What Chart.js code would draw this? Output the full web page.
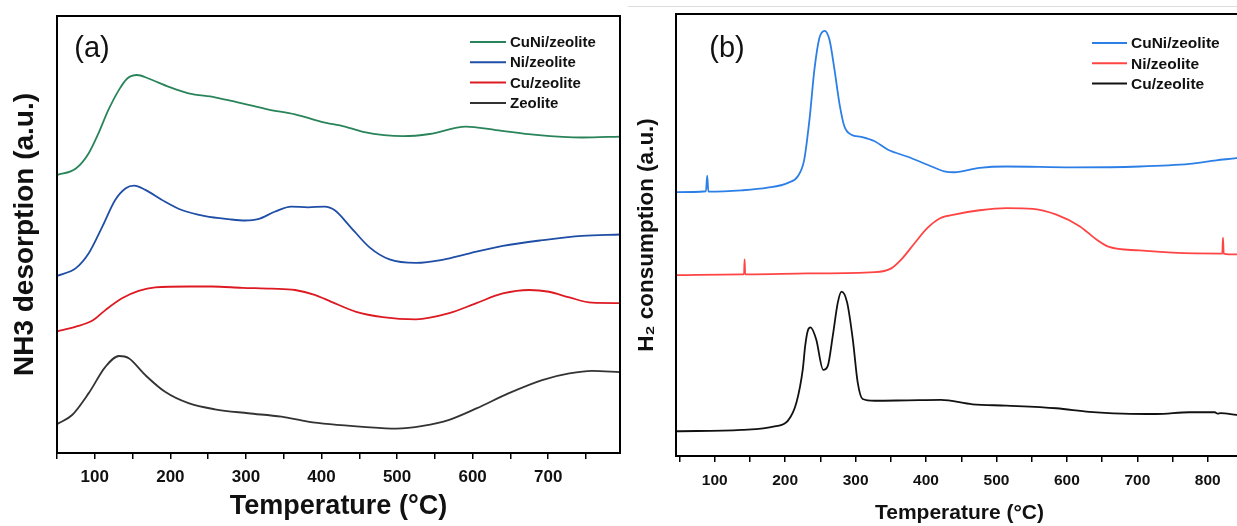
<!DOCTYPE html>
<html>
<head>
<meta charset="utf-8">
<script src="https://cdn.jsdelivr.net/npm/chart.js@4.4.0/dist/chart.umd.min.js"></script>
<style>
  html, body { margin: 0; padding: 0; background: #fff; overflow: hidden; width: 1237px; height: 526px; }
  #wrap { position: relative; width: 1237px; height: 526px; overflow: hidden; }
  canvas { position: absolute; top: 0; }
  #tpd { left: 0; }
  #tpr { left: 622px; }
  #rule { position: absolute; left: 628px; top: 6px; right: 0; height: 1px; background: #dcdcdc; }
</style>
</head>
<body>
<div id="wrap">
  <div id="rule"></div>
  <canvas id="tpd" width="630" height="526"></canvas>
  <canvas id="tpr" width="630" height="526"></canvas>
</div>
<script>
const FONT = "'Liberation Sans', Arial, Helvetica, sans-serif";

// ---- (a) NH3-TPD profiles, intensity in a.u. (offset curves) ----
const tpdLabels = ['CuNi/zeolite', 'Ni/zeolite', 'Cu/zeolite', 'Zeolite'];
const tpdColors = ['#2a845a', '#1f4ea6', '#dd1a22', '#333333'];

const tpdTempCuNi = [50, 75, 92, 105, 118, 132, 143, 156, 171, 198, 224, 259, 295, 330, 365, 400, 431, 455, 508, 543, 591, 631, 684, 745, 795];
const tpdCuNi     = [63.6, 65.1, 68.6, 73.2, 78.5, 83.1, 85.7, 86.5, 85.7, 83.8, 82.3, 81.4, 80.0, 78.6, 77.5, 75.8, 74.7, 73.5, 72.5, 73.0, 74.7, 73.9, 72.8, 72.2, 72.4];

const tpdTempNi = [50, 75, 92, 110, 127, 141, 152, 167, 189, 215, 246, 277, 299, 316, 338, 360, 382, 404, 418, 437, 464, 490, 525, 560, 596, 640, 692, 745, 795];
const tpdNi     = [40.5, 42.3, 45.7, 51.8, 57.9, 60.6, 61.2, 60.2, 57.9, 55.6, 54.2, 53.5, 53.2, 53.5, 55.2, 56.4, 56.2, 56.4, 55.5, 52.0, 47.0, 44.3, 43.5, 44.2, 45.7, 47.4, 48.7, 49.7, 50.0];

const tpdTempCu = [50, 75, 97, 114, 136, 158, 180, 224, 255, 295, 334, 365, 391, 413, 446, 481, 525, 569, 605, 640, 675, 701, 728, 758, 795];
const tpdCu     = [27.8, 28.9, 30.3, 32.7, 35.4, 37.1, 37.9, 38.1, 38.1, 37.8, 37.6, 37.3, 36.2, 34.6, 32.3, 31.1, 30.6, 32.0, 34.3, 36.5, 37.3, 36.9, 35.6, 34.4, 34.3];

const tpdTempZeo = [50, 70, 92, 114, 132, 145, 167, 193, 224, 259, 303, 347, 382, 411, 455, 499, 534, 569, 605, 648, 692, 728, 758, 795];
const tpdZeo     = [6.6, 8.7, 13.7, 19.7, 22.2, 21.7, 17.8, 14.0, 11.4, 10.0, 9.1, 8.3, 7.2, 6.6, 6.0, 5.6, 6.2, 7.6, 10.2, 13.7, 16.7, 18.2, 18.8, 18.5];

// ---- (b) H2-TPR profiles, consumption in a.u. (offset curves) ----
const tprLabels = ['CuNi/zeolite', 'Ni/zeolite', 'Cu/zeolite'];
const tprColors = ['#2c7fe6', '#ff4444', '#111111'];

const tprTempCuNi = [45, 87.5, 89.3, 91, 138, 175, 204, 218, 227, 234.5, 241.5, 248.5, 256, 263, 270, 277, 284, 294, 308, 327, 346, 374, 402, 426, 440, 476, 514, 608, 703, 774, 812, 841, 850];
const tprCuNi     = [59.7, 59.9, 63.4, 59.8, 60.1, 60.7, 61.8, 63.3, 67.0, 76.1, 87.4, 94.5, 96.2, 94.1, 87.4, 79.8, 74.6, 72.7, 72.2, 71.2, 69.3, 67.7, 65.9, 64.4, 64.2, 65.2, 65.5, 65.3, 65.5, 66.1, 66.9, 67.4, 67.6];

const tprTempNi = [45, 138, 141.6, 142.4, 143.2, 147, 232, 327, 350, 365, 384, 402, 420, 440, 476, 514, 552, 585, 618, 641, 660, 703, 750, 820.6, 821.6, 822.6, 841, 850];
const tprNi     = [40.9, 41.1, 41.1, 44.5, 41.1, 41.1, 41.3, 41.6, 42.4, 44.5, 48.2, 51.6, 53.8, 54.6, 55.6, 56.1, 55.9, 54.6, 52.0, 49.1, 47.3, 46.5, 46.0, 45.8, 49.4, 45.8, 45.6, 45.6];

const tprTempCu = [45, 138, 185, 204, 216, 225, 228.4, 232, 236, 244, 254, 260.5, 267.6, 274.7, 280, 288, 296, 303, 310, 327, 374, 421, 466, 514, 585, 632, 679, 727, 774, 810, 814, 818, 841, 850];
const tprCu     = [5.6, 5.9, 6.7, 8.0, 12.1, 19.6, 24.9, 28.3, 29.1, 26.4, 19.5, 20.4, 27.2, 34.7, 37.2, 34.7, 26.4, 16.6, 12.9, 12.5, 12.6, 12.7, 11.7, 11.4, 10.8, 10.0, 9.6, 9.5, 9.9, 9.9, 9.6, 9.7, 9.3, 9.2];

// ---- axis text ----
const tempTitle = 'Temperature (°C)';
const tpdYTitle = 'NH3 desorption (a.u.)';
const tprYTitle = 'H\u2082 consumption (a.u.)';
const tickStep = 50;
const labelStep = 100;

function points(xs, ys) {
  return xs.map((x, i) => ({ x: x, y: ys[i] }));
}

function lineSet(label, color, xs, ys, width) {
  return {
    label: label,
    data: points(xs, ys),
    borderColor: color,
    backgroundColor: color,
    borderWidth: width,
    pointRadius: 0,
    fill: false,
    cubicInterpolationMode: 'monotone'
  };
}

// closed box around the plotting area
const framePlugin = {
  id: 'frame',
  afterDatasetsDraw(chart) {
    const { ctx, chartArea: a } = chart;
    ctx.save();
    ctx.strokeStyle = '#000';
    ctx.lineWidth = 2;
    ctx.strokeRect(a.left, a.top, a.right - a.left, a.bottom - a.top);
    ctx.restore();
  }
};

// line-sample legend and panel tag drawn inside the plot
const lineLegendPlugin = {
  id: 'lineLegend',
  afterDraw(chart, args, opts) {
    const ctx = chart.ctx;
    ctx.save();
    chart.data.datasets.forEach((ds, i) => {
      const y = opts.y + i * opts.rowGap;
      ctx.strokeStyle = ds.borderColor;
      ctx.lineWidth = 2;
      ctx.beginPath();
      ctx.moveTo(opts.x, y);
      ctx.lineTo(opts.x + opts.lineLen, y);
      ctx.stroke();
      ctx.fillStyle = '#111';
      ctx.font = 'bold ' + opts.size + 'px ' + FONT;
      ctx.textAlign = 'left';
      ctx.textBaseline = 'middle';
      ctx.fillText(ds.label, opts.x + opts.lineLen + opts.gap, y + 1);
    });
    ctx.font = opts.tagSize + 'px ' + FONT;
    ctx.fillStyle = '#111';
    ctx.textAlign = 'center';
    ctx.textBaseline = 'middle';
    ctx.fillText(opts.tag, opts.tagX, opts.tagY);
    ctx.restore();
  }
};

function makeChart(id, cfg) {
  return new Chart(document.getElementById(id), {
    type: 'line',
    data: { datasets: cfg.datasets },
    options: {
      responsive: false,
      animation: false,
      devicePixelRatio: 1,
      layout: { padding: cfg.padding },
      scales: {
        x: {
          type: 'linear',
          min: cfg.xMin,
          max: cfg.xMax,
          afterFit: (s) => { s.height = cfg.xHeight; },
          border: { display: false },
          grid: { display: true, drawOnChartArea: false, drawTicks: true, tickLength: 6, color: '#000', lineWidth: 1.5 },
          ticks: {
            stepSize: tickStep,
            includeBounds: false,
            autoSkip: false,
            maxRotation: 0,
            padding: cfg.tickPad,
            color: '#111',
            font: { family: FONT, size: cfg.tickSize, weight: 'bold' },
            callback: (v) => (v % labelStep === 0 ? String(v) : '')
          },
          title: {
            display: true,
            text: tempTitle,
            color: '#111',
            font: { family: FONT, size: cfg.xTitleSize, weight: 'bold' },
            padding: { top: 0, bottom: cfg.xTitlePad }
          }
        },
        y: {
          min: 0,
          max: 100,
          afterFit: (s) => { s.width = cfg.yWidth; },
          border: { display: false },
          grid: { display: false },
          ticks: { display: false },
          title: {
            display: true,
            text: cfg.yTitle,
            color: '#111',
            font: { family: FONT, size: cfg.yTitleSize, weight: 'bold' },
            padding: { top: cfg.yTitlePad, bottom: 0 }
          }
        }
      },
      plugins: {
        legend: { display: false },
        tooltip: { enabled: false },
        lineLegend: cfg.legend
      }
    },
    plugins: [framePlugin, lineLegendPlugin]
  });
}

makeChart('tpd', {
  datasets: [
    lineSet(tpdLabels[0], tpdColors[0], tpdTempCuNi, tpdCuNi, 1.8),
    lineSet(tpdLabels[1], tpdColors[1], tpdTempNi, tpdNi, 1.8),
    lineSet(tpdLabels[2], tpdColors[2], tpdTempCu, tpdCu, 1.8),
    lineSet(tpdLabels[3], tpdColors[3], tpdTempZeo, tpdZeo, 1.8)
  ],
  padding: { left: 0, top: 16, right: 10, bottom: 0 },
  xMin: 50, xMax: 795,
  xHeight: 73, yWidth: 57,
  tickSize: 17, tickPad: 8,
  xTitleSize: 27, xTitlePad: 3,
  yTitle: tpdYTitle, yTitleSize: 28, yTitlePad: 8,
  legend: { x: 470, y: 42, rowGap: 20.3, lineLen: 36, gap: 4, size: 15, tag: '(a)', tagX: 92, tagY: 49, tagSize: 29 }
});

makeChart('tpr', {
  datasets: [
    lineSet(tprLabels[0], tprColors[0], tprTempCuNi, tprCuNi, 1.8),
    lineSet(tprLabels[1], tprColors[1], tprTempNi, tprNi, 1.8),
    lineSet(tprLabels[2], tprColors[2], tprTempCu, tprCu, 1.8)
  ],
  padding: { left: 0, top: 14, right: 8.3, bottom: 0 },
  xMin: 45, xMax: 850,
  xHeight: 70, yWidth: 54,
  tickSize: 15.5, tickPad: 9,
  xTitleSize: 21, xTitlePad: 0,
  yTitle: tprYTitle, yTitleSize: 22.5, yTitlePad: 11.5,
  legend: { x: 470, y: 43, rowGap: 20.3, lineLen: 35, gap: 4, size: 15.5, tag: '(b)', tagX: 105, tagY: 49, tagSize: 29 }
});
</script>
</body>
</html>
